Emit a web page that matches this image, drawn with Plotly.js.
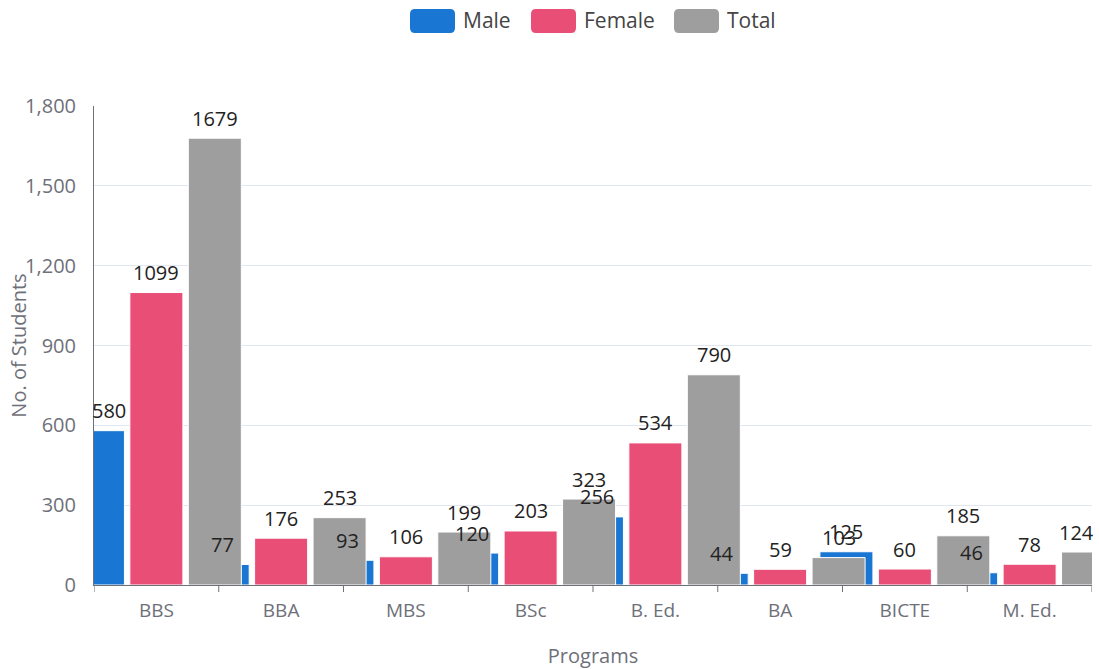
<!DOCTYPE html>
<html>
<head>
<meta charset="utf-8">
<script src="https://cdn.plot.ly/plotly-3.0.1.min.js"></script>
<style>html,body{margin:0;padding:0;background:#fff;}#chart{width:1099px;height:669px;}</style>
</head>
<body>
<div id="chart"></div>
<script>
// ---- data ----
const programs = ["BBS", "BBA", "MBS", "BSc", "B. Ed.", "BA", "BICTE", "M. Ed."];
const seriesNames = ["Male", "Female", "Total"];
const male = [580, 77, 93, 120, 256, 44, 125, 46];
const female = [1099, 176, 106, 203, 534, 59, 60, 78];
const total = [1679, 253, 199, 323, 790, 103, 185, 124];
const yTicks = [0, 300, 600, 900, 1200, 1500, 1800];

// ---- styling ----
const colors = ["#1976d2", "#e84e76", "#9e9e9e"];
const barWidth = 0.425;
const centers = [-0.4686, 0, 0.4686];
const values = [male, female, total];
const FONT = "Open Sans, Noto Sans, sans-serif";

const M = {l: 94, r: 7, t: 106, b: 84};
const W = 1099, H = 669;
const PW = W - M.l - M.r, PH = H - M.t - M.b;
const px2x = x => (x - M.l) / PW;
const px2y = y => (H - M.b - y) / PH;

const traces = values.map((v, k) => ({
  type: "bar",
  name: seriesNames[k],
  x: programs.map((_, i) => i),
  y: v,
  width: barWidth,
  offset: centers[k] - barWidth / 2,
  marker: {color: colors[k], line: {color: "#ffffff", width: 1}},
  hoverinfo: "name+y",
  showlegend: false
}));

// data labels (centered on visible part of bar)
const xMin = -0.5, xMax = programs.length - 0.5;
const annotations = [];
values.forEach((v, k) => {
  v.forEach((val, i) => {
    const a = Math.max(i + centers[k] - barWidth / 2, xMin);
    const b = Math.min(i + centers[k] + barWidth / 2, xMax);
    annotations.push({
      x: (a + b) / 2, y: val, xref: "x", yref: "y",
      text: String(val), showarrow: false,
      yanchor: "middle", yshift: 20,
      font: {family: FONT, size: 20, color: "#222"}
    });
  });
});

// custom legend
const legendIconX = [410, 531, 674];
const shapes = [];
function roundRect(x0, y0, x1, y1, r) {
  const X0 = px2x(x0), X1 = px2x(x1), Y0 = px2y(y0), Y1 = px2y(y1);
  const rx = r / PW, ry = r / PH;
  return `M ${X0 + rx},${Y0} L ${X1 - rx},${Y0} Q ${X1},${Y0} ${X1},${Y0 - ry} L ${X1},${Y1 + ry} Q ${X1},${Y1} ${X1 - rx},${Y1} L ${X0 + rx},${Y1} Q ${X0},${Y1} ${X0},${Y1 + ry} L ${X0},${Y0 - ry} Q ${X0},${Y0} ${X0 + rx},${Y0} Z`;
}
seriesNames.forEach((n, k) => {
  const x0 = legendIconX[k];
  shapes.push({
    type: "path", xref: "paper", yref: "paper",
    path: roundRect(x0, 9, x0 + 45, 33, 5),
    fillcolor: colors[k], line: {width: 0}
  });
  annotations.push({
    xref: "paper", yref: "paper",
    x: px2x(x0 + 51), y: px2y(20),
    xanchor: "left", yanchor: "middle",
    text: n, showarrow: false,
    font: {family: FONT, size: 21, color: "#444"}
  });
});

const layout = {
  width: W, height: H,
  margin: M,
  paper_bgcolor: "#ffffff", plot_bgcolor: "#ffffff",
  barmode: "overlay",
  showlegend: false,
  font: {family: FONT},
  xaxis: {
    type: "linear",
    range: [xMin, xMax],
    tickvals: programs.map((_, i) => i),
    ticktext: programs,
    showgrid: false,
    zeroline: false,
    showline: true, linecolor: "#6e7079", linewidth: 1,
    ticks: "",
    ticklabelstandoff: 8,
    tickfont: {family: FONT, size: 19, color: "#6e7079"},
    title: {text: "Programs", font: {family: FONT, size: 20, color: "#6e7079"}, standoff: 34}
  },
  yaxis: {
    range: [0, 1800],
    tickvals: yTicks,
    tickformat: ",d",
    showgrid: true, gridcolor: "#e0e6f1", gridwidth: 1,
    zeroline: false,
    showline: true, linecolor: "#6e7079", linewidth: 1,
    tickfont: {family: FONT, size: 20, color: "#6e7079"},
    ticklabelstandoff: 13,
    title: {text: "No. of Students", font: {family: FONT, size: 20, color: "#6e7079"}, standoff: 0}
  },
  annotations: annotations,
  shapes: shapes.concat(
    // tick marks at category boundaries
    programs.concat([""]).map((_, i) => ({
      type: "line", xref: "x", yref: "paper",
      x0: i - 0.5, x1: i - 0.5, y0: 0, y1: -7 / PH,
      line: {color: "#6e7079", width: 1}
    }))
  )
};

Plotly.newPlot("chart", traces, layout, {displayModeBar: false, staticPlot: true}).then(gd => {
  // nudge the y-axis title slightly toward the tick labels, as in the reference
  const t = gd.querySelector(".ytitle");
  if (t) {
    const cur = t.getAttribute("transform") || "";
    t.setAttribute("transform", cur + " translate(0,5)");
  }
});
</script>
</body>
</html>
